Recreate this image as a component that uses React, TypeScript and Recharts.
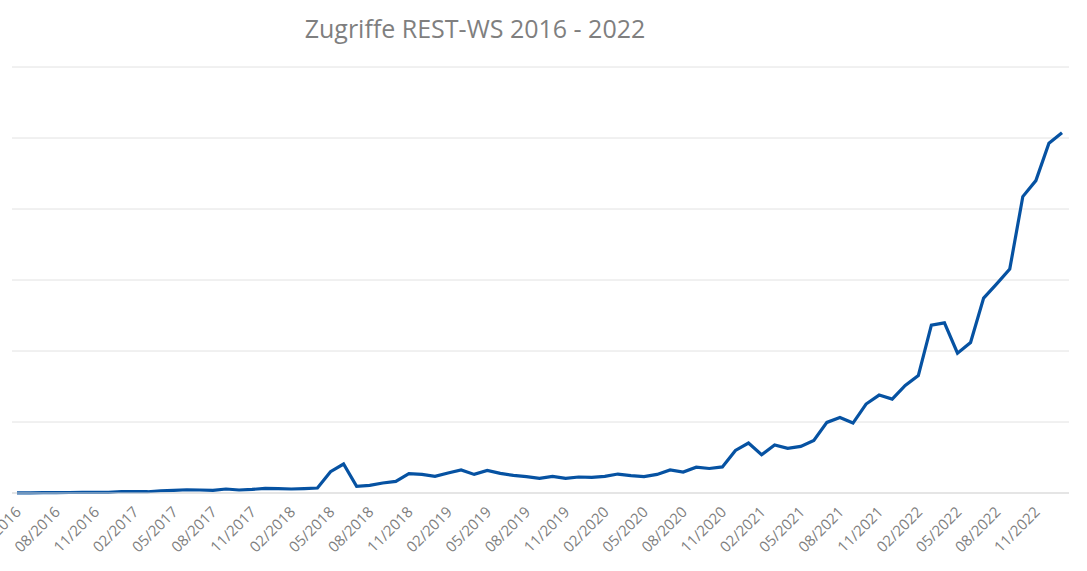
import { LineChart, Line, XAxis, YAxis, CartesianGrid } from 'recharts';

// Monthly accesses, 05/2016 - 01/2023 (unit: one gridline = 100)
const START_YEAR = 2016;
const START_MONTH = 5;

const accesses = [
  0.2, 0.3, 0.4, 0.5, 0.7, 0.9, 1.0, 1.0, 2.1, 1.8,
  1.8, 3.2, 3.7, 4.6, 4.2, 3.7, 5.6, 4.2, 5.1, 6.5,
  6.1, 5.6, 6.1, 7.0, 30, 40.8, 9.3, 10.7, 14.1, 16.3,
  27.2, 26.2, 23.4, 28.2, 32.4, 26.2, 31.8, 27.6, 24.8, 23,
  20.5, 23.4, 20.5, 22.5, 22, 23.4, 26.7, 24.4, 23, 26.2,
  32.4, 29.6, 36.3, 34.5, 36.7, 60, 70.4, 53.9, 67.6, 62.8,
  65.6, 74, 99.4, 106.4, 98.5, 125.3, 137.9, 132.3, 151.4, 165.4,
  236.5, 239.7, 197, 212, 274.5, 294.6, 315.3, 417.5, 440, 492.6,
  507.5,
];

const yTicks = [0, 100, 200, 300, 400, 500, 600];

const months = accesses.map((_, i) => {
  const m = ((START_MONTH - 1 + i) % 12) + 1;
  const y = START_YEAR + Math.floor((START_MONTH - 1 + i) / 12);
  return `${String(m).padStart(2, '0')}/${y}`;
});

const data = months.map((month, i) => ({ month, value: accesses[i] }));

const FONT = '"Open Sans", "Noto Sans", sans-serif';

const MonthTick = ({ x, y, payload }: any) => (
  <g transform={`translate(${x + 5},${y + 12})`}>
    <text transform="rotate(-45)" textAnchor="end" fill="#808080" fontSize={15} fontFamily={FONT}>
      {payload.value}
    </text>
  </g>
);

export default function App() {
  return (
    <div style={{ position: 'fixed', left: 0, top: 0, width: 1087, height: 571, background: '#fff' }}>
      <div
        style={{
          position: 'absolute',
          left: 0,
          width: 950,
          top: 11,
          textAlign: 'center',
          fontFamily: FONT,
          fontSize: 25,
          color: '#7f7f7f',
          whiteSpace: 'nowrap',
        }}
      >
        Zugriffe REST-WS 2016 - 2022
      </div>
      <LineChart width={1087} height={571} data={data} margin={{ top: 67, right: 18, left: 12, bottom: 1 }}>
        <CartesianGrid vertical={false} stroke="#e2e2e2" />
        <XAxis
          dataKey="month"
          interval={2}
          height={77}
          padding={{ left: 5, right: 7 }}
          tickLine={false}
          axisLine={{ stroke: '#d9d9d9' }}
          tick={<MonthTick />}
        />
        <YAxis hide domain={[0, 600]} ticks={yTicks} />
        <Line
          type="linear"
          dataKey="value"
          stroke="#0652a2"
          strokeWidth={3.2}
          dot={false}
          isAnimationActive={false}
        />
      </LineChart>
    </div>
  );
}
